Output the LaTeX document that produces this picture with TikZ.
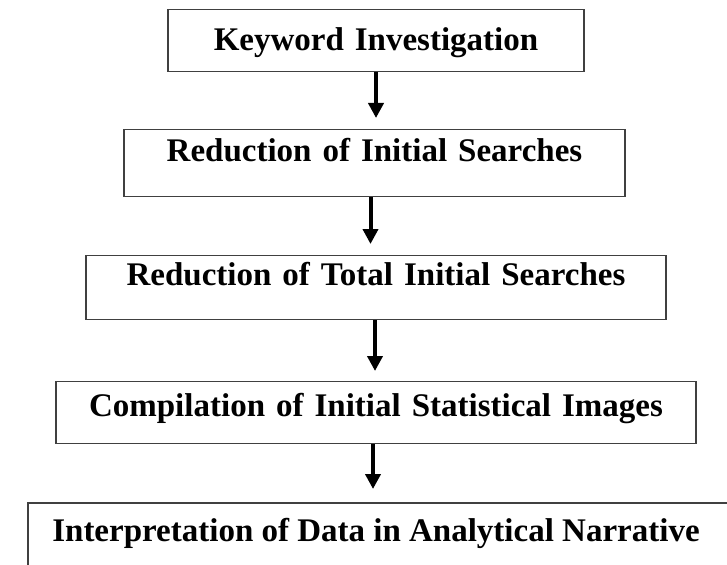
\documentclass[tikz,border=0pt]{standalone}
\usepackage{fontspec}
\setmainfont{Liberation Serif}
\usetikzlibrary{arrows.meta,calc}
\begin{document}
\begin{tikzpicture}[x=1pt,y=-1pt,
  stepbox/.style={draw=black!75,line width=1.3pt,inner sep=0pt,anchor=north,
    font=\fontsize{33}{36}\selectfont\bfseries,align=center},
  arr/.style={line width=4pt,-{Triangle[width=15pt,length=15pt]}}]
\useasboundingbox (0,0) rectangle (727,564);
\node[stepbox,text width=416pt,text height=41pt,text depth=21pt] (b1) at (376,9) {Keyword Investigation};
\node[stepbox,text width=501pt,text height=32pt,text depth=35pt] (b2) at (374.5,129) {Reduction of Initial Searches};
\node[stepbox,text width=580pt,text height=30pt,text depth=34pt] (b3) at (376,255) {Reduction of Total Initial Searches};
\node[stepbox,text width=640pt,text height=35pt,text depth=27pt] (b4) at (376,381) {Compilation of Initial Statistical Images};
\node[inner sep=0pt,anchor=base,font=\fontsize{33}{36}\selectfont\bfseries] (t5) at (376,541) {Interpretation of Data in Analytical Narrative};
\coordinate (c5a) at ($(t5.west |- 0,503)+(-24,0)$);
\coordinate (c5b) at (740,503);
\coordinate (c5c) at ($(t5.west |- 0,580)+(-24,0)$);
\draw[draw=black!75,line width=1.3pt] (c5c) -- (c5a) -- (c5b);
\draw[arr,shorten >=11pt] (b1.south) -- (b1.south |- b2.north);
\draw[arr,shorten >=11pt] ([xshift=-4pt]b2.south) -- ([xshift=-4pt]b2.south |- b3.north);
\draw[arr,shorten >=10pt] ([xshift=-1pt]b3.south) -- ([xshift=-1pt]b3.south |- b4.north);
\draw[arr,shorten >=14pt] ([xshift=-3pt]b4.south) -- ([xshift=-3pt]b4.south |- c5a);
\end{tikzpicture}
\end{document}
